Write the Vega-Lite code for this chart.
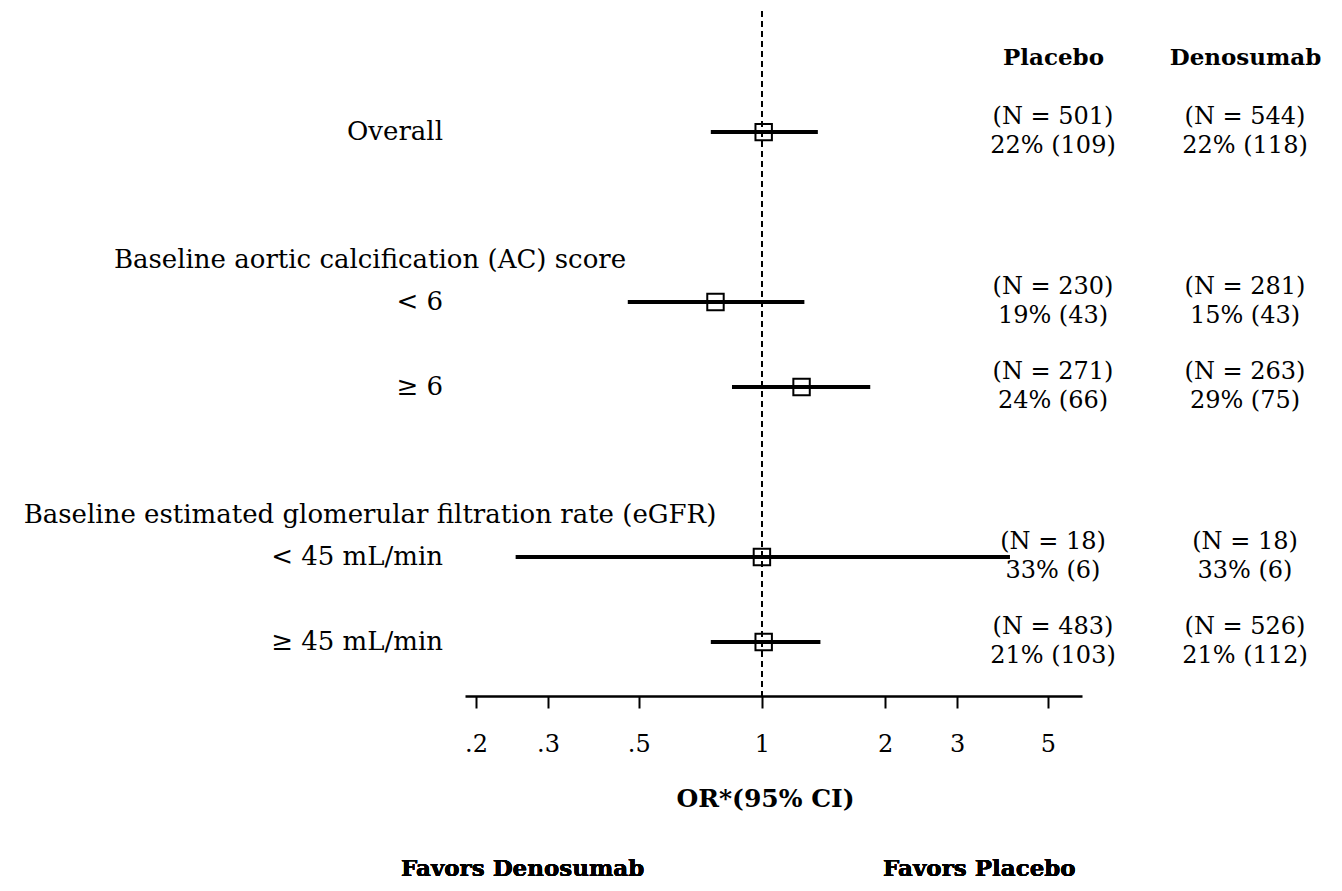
{
  "$schema": "https://vega.github.io/schema/vega-lite/v6.json",
  "padding": {"top": 10, "left": 0, "right": 0, "bottom": 0},
  "autosize": {"type": "pad"},
  "background": "white",
  "bounds": "flush",
  "spacing": 0,
  "config": {
    "view": {"stroke": null},
    "font": "DejaVu Serif",
    "text": {"font": "DejaVu Serif", "fontSize": 24, "color": "black"}
  },
  "datasets": {
    "rows": [
      {"label": "Overall", "kind": "subgroup", "row": 0, "or": 1.01, "lo": 0.75, "hi": 1.37},
      {"label": "Baseline aortic calcification (AC) score", "kind": "header", "row": 3},
      {"label": "< 6", "kind": "subgroup", "row": 4, "or": 0.77, "lo": 0.47, "hi": 1.27},
      {"label": "≥ 6", "kind": "subgroup", "row": 6, "or": 1.25, "lo": 0.845, "hi": 1.84},
      {"label": "Baseline estimated glomerular filtration rate (eGFR)", "kind": "header", "row": 9},
      {"label": "< 45 mL/min", "kind": "subgroup", "row": 10, "or": 1.0, "lo": 0.25, "hi": 4.04},
      {"label": "≥ 45 mL/min", "kind": "subgroup", "row": 12, "or": 1.01, "lo": 0.75, "hi": 1.39}
    ],
    "arms": [
      {"row": 0, "arm": "Placebo", "n": 501, "events": 109, "pct": 22},
      {"row": 0, "arm": "Denosumab", "n": 544, "events": 118, "pct": 22},
      {"row": 4, "arm": "Placebo", "n": 230, "events": 43, "pct": 19},
      {"row": 4, "arm": "Denosumab", "n": 281, "events": 43, "pct": 15},
      {"row": 6, "arm": "Placebo", "n": 271, "events": 66, "pct": 24},
      {"row": 6, "arm": "Denosumab", "n": 263, "events": 75, "pct": 29},
      {"row": 10, "arm": "Placebo", "n": 18, "events": 6, "pct": 33},
      {"row": 10, "arm": "Denosumab", "n": 18, "events": 6, "pct": 33},
      {"row": 12, "arm": "Placebo", "n": 483, "events": 103, "pct": 21},
      {"row": 12, "arm": "Denosumab", "n": 526, "events": 112, "pct": 21}
    ]
  },
  "hconcat": [
    {
      "width": 465,
      "height": 685,
      "data": {"name": "rows"},
      "layer": [
        {
          "transform": [{"filter": "datum.kind == 'header'"}],
          "mark": {"type": "text", "align": "center", "baseline": "middle", "fontSize": 26},
          "encoding": {
            "x": {"value": 370},
            "y": {"field": "row", "type": "quantitative", "scale": {"domain": [-2.85, 13.27], "reverse": true, "nice": false, "zero": false}, "axis": null},
            "text": {"field": "label"}
          }
        },
        {
          "transform": [{"filter": "datum.kind == 'subgroup'"}],
          "mark": {"type": "text", "align": "right", "baseline": "middle", "fontSize": 26},
          "encoding": {
            "x": {"value": 443},
            "y": {"field": "row", "type": "quantitative"},
            "text": {"field": "label"}
          }
        }
      ]
    },
    {
      "width": 617,
      "height": 685,
      "layer": [
        {
          "data": {"name": "rows"},
          "transform": [{"filter": "datum.kind == 'subgroup'"}],
          "layer": [
            {
              "mark": {"type": "rule", "color": "black", "strokeWidth": 4},
              "encoding": {
                "x": {
                  "field": "lo", "type": "quantitative",
                  "scale": {"type": "log", "domain": [0.188, 6.06], "nice": false, "zero": false},
                  "axis": {
                    "values": [0.2, 0.3, 0.5, 1, 2, 3, 5],
                    "labelExpr": "datum.value < 1 ? '.' + round(datum.value * 10) : '' + datum.value",
                    "domainColor": "black", "domainWidth": 2.5,
                    "tickColor": "black", "tickWidth": 2, "tickSize": 12,
                    "labelFont": "DejaVu Serif", "labelFontSize": 24, "labelColor": "black",
                    "labelPadding": 24, "labelFlush": false, "labelOverlap": false,
                    "grid": false,
                    "title": "OR*(95%  CI)",
                    "titleFont": "DejaVu Serif", "titleFontWeight": "bold", "titleFontSize": 25,
                    "titleColor": "black", "titlePadding": 30, "titleX": 300
                  }
                },
                "x2": {"field": "hi"},
                "y": {"field": "row", "type": "quantitative", "scale": {"domain": [-2.85, 13.27], "reverse": true, "nice": false, "zero": false}, "axis": null}
              }
            },
            {
              "mark": {"type": "point", "shape": "square", "filled": false, "color": "black", "size": 270, "strokeWidth": 2, "opacity": 1},
              "encoding": {
                "x": {"field": "or", "type": "quantitative"},
                "y": {"field": "row", "type": "quantitative"}
              }
            },
            {
              "mark": {"type": "rule", "color": "black", "strokeWidth": 1.5, "strokeDash": [6, 4]},
              "encoding": {"x": {"datum": 1, "type": "quantitative"}}
            },
            {
              "mark": {"type": "text", "text": "Favors Denosumab", "fontWeight": "bold", "fontSize": 23, "align": "center", "baseline": "middle"},
              "encoding": {"x": {"datum": 0.26, "type": "quantitative"}, "y": {"datum": 17.34, "type": "quantitative"}}
            },
            {
              "mark": {"type": "text", "text": "Favors Placebo", "fontWeight": "bold", "fontSize": 23, "align": "center", "baseline": "middle"},
              "encoding": {"x": {"datum": 3.4, "type": "quantitative"}, "y": {"datum": 17.34, "type": "quantitative"}}
            }
          ]
        },
        {
          "data": {"name": "arms"},
          "transform": [
            {"calculate": "'(N = ' + datum.n + ')'", "as": "nLine"},
            {"calculate": "datum.pct + '% (' + datum.events + ')'", "as": "pLine"}
          ],
          "layer": [
            {
              "mark": {"type": "text", "align": "center", "baseline": "middle", "fontSize": 24, "dy": -15},
              "encoding": {
                "x": {
                  "field": "arm", "type": "nominal",
                  "scale": {"type": "point", "domain": ["Placebo", "Denosumab"], "range": [588, 780], "padding": 0},
                  "axis": {
                    "orient": "top", "offset": -60, "domain": false, "ticks": false, "title": null,
                    "labelFont": "DejaVu Serif", "labelFontWeight": "bold", "labelFontSize": 23,
                    "labelColor": "black", "labelPadding": 2, "labelAngle": 0
                  }
                },
                "y": {"field": "row", "type": "quantitative"},
                "text": {"field": "nLine"}
              }
            },
            {
              "mark": {"type": "text", "align": "center", "baseline": "middle", "fontSize": 24, "dy": 14},
              "encoding": {
                "x": {"field": "arm", "type": "nominal"},
                "y": {"field": "row", "type": "quantitative"},
                "text": {"field": "pLine"}
              }
            }
          ]
        }
      ],
      "resolve": {"scale": {"x": "independent"}, "axis": {"x": "independent"}}
    }
  ]
}
